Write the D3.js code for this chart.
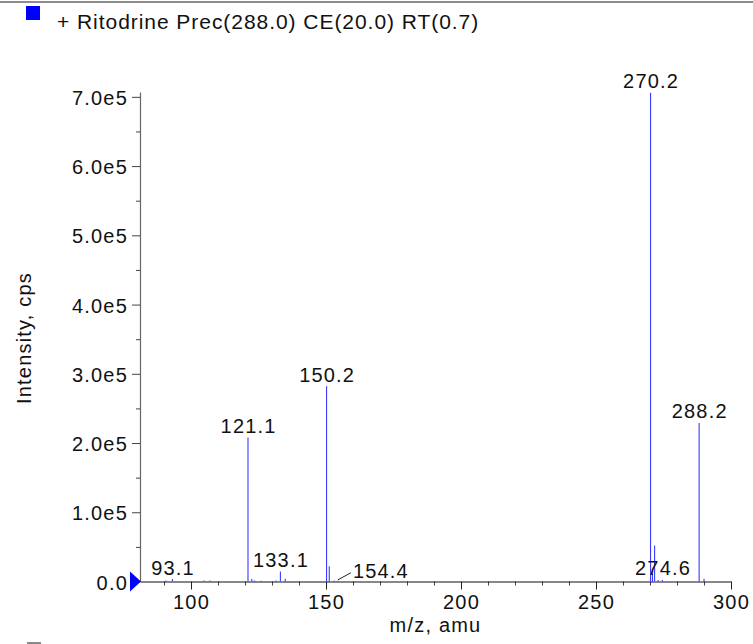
<!DOCTYPE html>
<html>
<head>
<meta charset="utf-8">
<script src="https://cdn.jsdelivr.net/npm/d3@7"></script>
<style>
body { margin: 0; background: #fff; }
svg { display: block; font-family: "Liberation Sans", Arial, sans-serif; }
</style>
</head>
<body>
<div class="chart-container"></div>
<script>
// spectrum peaks
var peakMz = [90.7, 93.1, 104.8, 107.0, 121.1, 122.5, 123.5, 126.0, 131.5, 133.1, 134.9,
  150.2, 151.2, 153.0, 154.4, 270.2, 270.9, 271.7, 273.0, 274.6, 288.2, 290.0];
var peakInt = [1500, 3500, 1500, 1500, 208000, 3500, 1500, 1000, 1500, 14500, 4000,
  282000, 22000, 1500, 1000, 706000, 11000, 52000, 2000, 2000, 229000, 4000];

var labelMz = [93.1, 121.1, 133.1, 150.2, 154.4, 270.2, 274.6, 288.2];
var leaderMz = [154.4];

var yTicks = [0, 1e5, 2e5, 3e5, 4e5, 5e5, 6e5, 7e5];
var xTicks = [100, 150, 200, 250, 300];
var legendText = "+ Ritodrine Prec(288.0) CE(20.0) RT(0.7)";

var W = 753, H = 644;
var margins = { top: 92, bottom: 62.5, left: 140, right: 22 };
var fs = 20, ls = 1.2; // font size / letter spacing for chart text

var svg = d3.select(".chart-container").append("svg")
  .attr("width", W).attr("height", H);

var xScale = d3.scaleLinear().domain([81.1, 300]).range([margins.left, W - margins.right]);
var yScale = d3.scaleLinear().domain([0, 7.07e5]).range([H - margins.bottom, margins.top]);

var y0 = yScale(0);

function txt(sel) {
  return sel.attr("font-size", fs).attr("letter-spacing", ls).attr("fill", "#111")
    .attr("font-family", "Liberation Sans, Arial, sans-serif");
}

// top frame line
svg.append("line").attr("x1", 0).attr("x2", W).attr("y1", 2).attr("y2", 2)
  .attr("stroke", "#666").attr("stroke-width", 1.5);

// legend
svg.append("rect").attr("x", 26).attr("y", 6).attr("width", 14).attr("height", 14)
  .attr("fill", "#0000ff");
svg.append("text").attr("x", 57).attr("y", 28.5).attr("font-size", 21).attr("letter-spacing", 0.95)
  .attr("fill", "#111").text(legendText);

// minor ticks
var yMinor = d3.range(0.5e5, 7e5, 1e5);
svg.append("g").attr("transform", "translate(" + margins.left + ",0)")
  .call(d3.axisLeft(yScale).tickValues(yMinor).tickSize(4).tickFormat(""))
  .call(function(g){ g.select(".domain").remove(); g.selectAll("line").attr("stroke", "#444"); });
var xMinor = d3.range(90, 300, 10).filter(function(v){ return v % 50 != 0; });
svg.append("g").attr("transform", "translate(0," + y0 + ")")
  .call(d3.axisBottom(xScale).tickValues(xMinor).tickSize(4).tickFormat(""))
  .call(function(g){ g.select(".domain").remove(); g.selectAll("line").attr("stroke", "#444"); });

// y axis
var yAxis = d3.axisLeft(yScale).tickValues(yTicks).tickSize(8).tickPadding(4).tickSizeOuter(0)
  .tickFormat(function(v){ return v == 0 ? "0.0" : (v / 1e5).toFixed(1) + "e5"; });
svg.append("g").attr("transform", "translate(" + margins.left + ",0)").call(yAxis)
  .call(function(g){
    txt(g.selectAll("text")).attr("dy", "0.38em");
    g.selectAll("line").attr("stroke", "#444");
    g.select(".domain").attr("stroke", "#666").attr("stroke-width", 1.2);
  });

// x axis
var xAxis = d3.axisBottom(xScale).tickValues(xTicks).tickSize(8).tickPadding(5).tickSizeOuter(0);
svg.append("g").attr("transform", "translate(0," + y0 + ")").call(xAxis)
  .call(function(g){
    txt(g.selectAll("text"));
    g.selectAll("line").attr("stroke", "#222");
    g.select(".domain").attr("stroke", "#111").attr("stroke-width", 1.2);
  });

// peaks
svg.append("g").selectAll("line.peak")
  .data(peakMz)
  .enter()
  .append("line")
  .attr("class", "peak")
  .attr("x1", function(d){ return xScale(d); })
  .attr("x2", function(d){ return xScale(d); })
  .attr("y1", y0)
  .attr("y2", function(d, i){ return yScale(peakInt[i]); })
  .attr("stroke", "#3b3bff")
  .attr("stroke-width", 1.1);

// peak labels
labelMz.forEach(function(m){
  var i = peakMz.indexOf(m);
  var top = yScale(peakInt[i]);
  if (leaderMz.indexOf(m) >= 0) {
    svg.append("line").attr("x1", xScale(m)).attr("y1", top - 1)
      .attr("x2", xScale(m) + 13).attr("y2", top - 8)
      .attr("stroke", "#222").attr("stroke-width", 1);
    txt(svg.append("text")).attr("x", xScale(m) + 15).attr("y", top - 3)
      .text(m.toFixed(1));
  } else {
    txt(svg.append("text")).attr("x", xScale(m) + ls / 2).attr("y", Math.min(top - 4.5, y0 - 7))
      .attr("text-anchor", "middle")
      .text(m.toFixed(1));
  }
});

// origin marker
svg.append("path")
  .attr("d", "M" + (margins.left - 10) + "," + (y0 - 10) + "L" + (margins.left + 1) + "," + y0 +
    "L" + (margins.left - 10) + "," + (y0 + 10) + "Z")
  .attr("fill", "#0000ff");

// axis titles
txt(svg.append("text")).attr("transform", "translate(31," + 338 + ") rotate(-90)")
  .attr("text-anchor", "middle").text("Intensity, cps");
txt(svg.append("text")).attr("x", (margins.left + W - margins.right) / 2).attr("y", 632)
  .attr("text-anchor", "middle").text("m/z, amu");

// next plot's legend square, cut off at the bottom
svg.append("rect").attr("x", 27).attr("y", 642).attr("width", 14).attr("height", 14)
  .attr("fill", "#888");
</script>
</body>
</html>
